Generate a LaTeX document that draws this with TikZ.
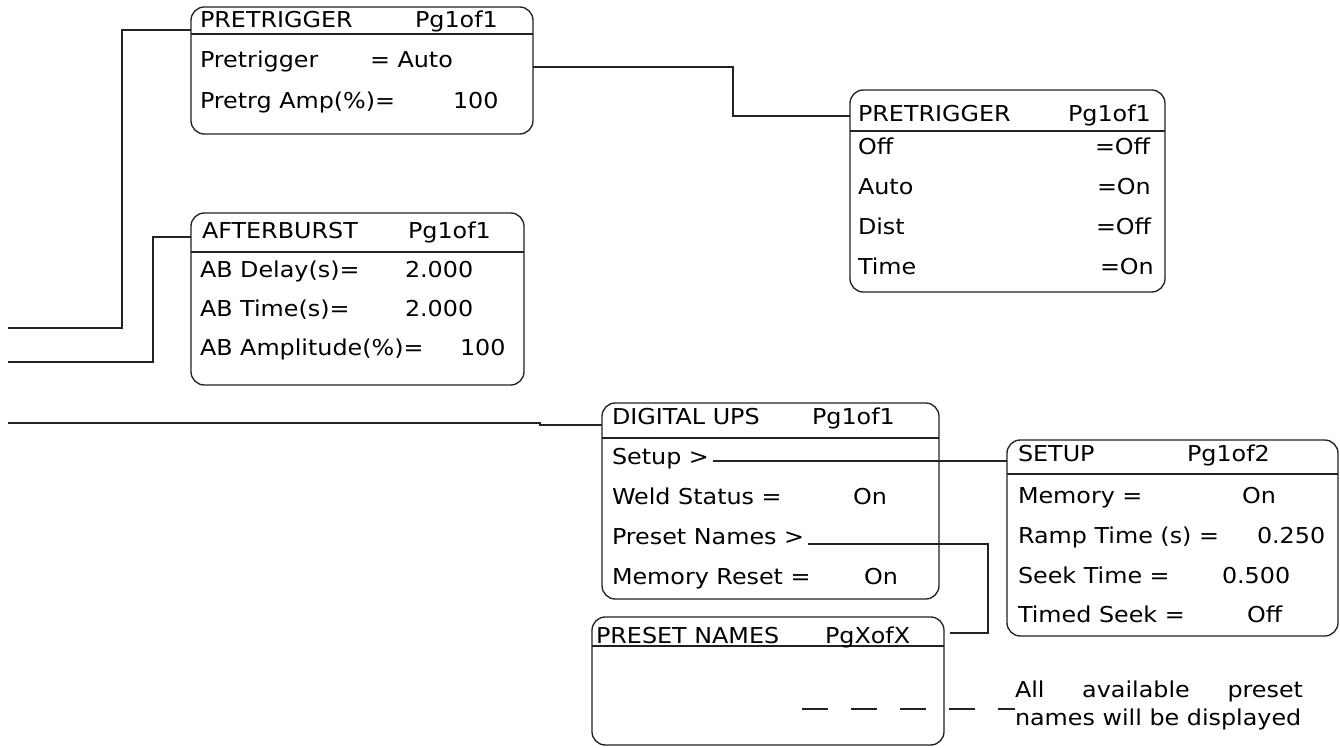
\documentclass[tikz,border=0pt]{standalone}
\usepackage{fontspec}
\setmainfont{DejaVu Sans}[FakeStretch=1.09]
\usetikzlibrary{fit}
\newcommand\fs{\fontsize{16.4pt}{19pt}\selectfont}
\definecolor{linec}{HTML}{222222}
\tikzset{
  panel/.style={draw=linec, line width=1pt, rounded corners=10pt, inner sep=0pt, outer sep=0pt},
  wire/.style={draw=linec, line width=1pt},
  txt/.style={anchor=base west, inner sep=0pt, outer sep=0pt, font=\fs, text=black},
  dashwire/.style={draw=linec, line width=1pt, dash pattern=on 19.5pt off 17.25pt},
}
\begin{document}
\begin{tikzpicture}[x=0.75pt,y=-0.75pt]
\useasboundingbox (0,0) rectangle (1340,748);

% ---------- panels ----------
\node[panel, fit={(191,7) (533,134)}] (A) {};
\node[panel, fit={(850,90) (1165,292)}] (B) {};
\node[panel, fit={(191,213) (524,385)}] (C) {};
\node[panel, fit={(602,403) (939,599)}] (D) {};
\node[panel, fit={(1007,440) (1338,636)}] (E) {};
\node[panel, fit={(592,617) (944,745)}] (F) {};

% header separators
\draw[wire] (A.west |- 0,34) -- (A.east |- 0,34);
\draw[wire] (B.west |- 0,131) -- (B.east |- 0,131);
\draw[wire] (C.west |- 0,252) -- (C.east |- 0,252);
\draw[wire] (D.west |- 0,438) -- (D.east |- 0,438);
\draw[wire] (E.west |- 0,474) -- (E.east |- 0,474);
\draw[wire] (F.west |- 0,646) -- (F.east |- 0,646);

% ---------- panel A ----------
\node[txt] (a0) at (200,28) {PRETRIGGER};
\node[txt] (a0v) at (415,28) {Pg1of1};
\node[txt] (a1) at (200,68) {Pretrigger};
\node[txt] (a1v) at (370,68) {= Auto};
\node[txt] (a2) at (200,109) {Pretrg Amp(\%)=};
\node[txt] (a2v) at (453,109) {100};

% ---------- panel B ----------
\node[txt] (b0) at (858,122) {PRETRIGGER};
\node[txt] (b0v) at (1068,122) {Pg1of1};
\node[txt] (b1) at (858,155) {Off};
\node[txt] (b1v) at (1095,155) {=Off};
\node[txt] (b2) at (858,195) {Auto};
\node[txt] (b2v) at (1097,195) {=On};
\node[txt] (b3) at (858,235) {Dist};
\node[txt] (b3v) at (1096,235) {=Off};
\node[txt] (b4) at (858,275) {Time};
\node[txt] (b4v) at (1100,275) {=On};

% ---------- panel C ----------
\node[txt] (c0) at (202,239) {AFTERBURST};
\node[txt] (c0v) at (408,239) {Pg1of1};
\node[txt] (c1) at (200,278) {AB Delay(s)=};
\node[txt] (c1v) at (405,278) {2.000};
\node[txt] (c2) at (200,317) {AB Time(s)=};
\node[txt] (c2v) at (405,317) {2.000};
\node[txt] (c3) at (200,356) {AB Amplitude(\%)=};
\node[txt] (c3v) at (460,356) {100};

% ---------- panel D ----------
\node[txt] (d0) at (612,425) {DIGITAL UPS};
\node[txt] (d0v) at (812,425) {Pg1of1};
\node[txt] (d1) at (612,465) {Setup >};
\node[txt] (d2) at (612,505) {Weld Status =};
\node[txt] (d2v) at (853,505) {On};
\node[txt] (d3) at (612,545) {Preset Names >};
\node[txt] (d4) at (612,585) {Memory Reset =};
\node[txt] (d4v) at (864,585) {On};

% ---------- panel E ----------
\node[txt] (e0) at (1018,462) {SETUP};
\node[txt] (e0v) at (1187,462) {Pg1of2};
\node[txt] (e1) at (1018,504) {Memory =};
\node[txt] (e1v) at (1242,504) {On};
\node[txt] (e2) at (1018,544) {Ramp Time (s) =};
\node[txt] (e2v) at (1257,544) {0.250};
\node[txt] (e3) at (1018,584) {Seek Time =};
\node[txt] (e3v) at (1222,584) {0.500};
\node[txt] (e4) at (1018,623) {Timed Seek =};
\node[txt] (e4v) at (1247,623) {Off};

% ---------- panel F ----------
\node[txt] (f0) at (596,643) {PRESET NAMES};
\node[txt] (f0v) at (825,643) {PgXofX};

% ---------- note ----------
\node[txt] (n1) at (1015,697) {\makebox[216pt][s]{All\hfill available\hfill preset}};
\node[txt] (n2) at (1015,725) {names will be displayed};

% ---------- free ends ----------
\coordinate (l1) at (8,328);
\coordinate (l2) at (8,362);
\coordinate (l3) at (8,423);
\coordinate (pn) at (950,633);
\coordinate (ds) at (802,709);

% ---------- connectors ----------
\draw[wire] (A.west |- 0,30) -| (122,328) -- (l1);
\draw[wire] (C.west |- 0,237) -| (153,362) -- (l2);
\draw[wire] (l3) -- (540,423) -- (540,425) -- (D.west |- 0,425);
\draw[wire] (A.east |- 0,67) -| (733,116) -- (B.west |- 0,116);
\draw[wire] (d1.base east |- 0,461) ++(4,0) -- (E.west |- 0,461);
\draw[wire] (d3.base east |- 0,544) ++(4,0) -| (988,633) -- (pn);
\draw[dashwire] (ds) -- (n2.west |- ds);
\end{tikzpicture}
\end{document}
